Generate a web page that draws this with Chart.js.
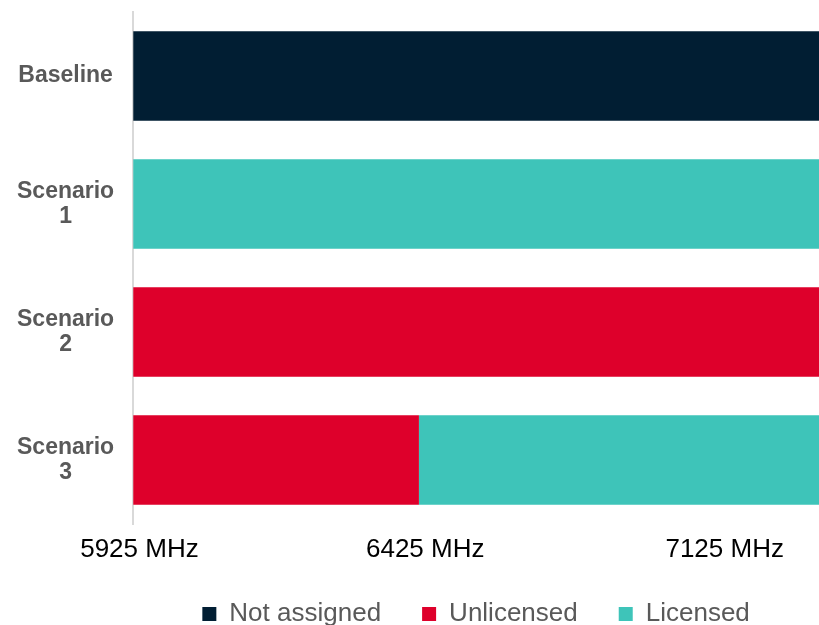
<!DOCTYPE html>
<html>
<head>
<meta charset="utf-8">
<script src="https://cdn.jsdelivr.net/npm/chart.js@4.4.1/dist/chart.umd.min.js"></script>
<style>
  html, body { margin: 0; padding: 0; background: #ffffff; }
  #wrap { width: 819px; height: 625px; position: relative; }
</style>
</head>
<body>
<div id="wrap"><canvas id="c"></canvas></div>
<script>
// Categories (multi-line labels)
const categories = [['Baseline'], ['Scenario', '1'], ['Scenario', '2'], ['Scenario', '3']];

// Band ranges in MHz per scenario (floating bars: [start, end])
const notAssigned = [[5925, 7125], null, null, null];
const unlicensed  = [null, null, [5925, 7125], [5925, 6425]];
const licensed    = [null, [5925, 7125], null, [6425, 7125]];

// Axis range and tick labels
const axisMin = 5925;
const axisMax = 7125;
const tickLabels = ['5925 MHz', '6425 MHz', '7125 MHz'];
const tickAnchors = [5936, 6436, 6960];

const FONT = "'Liberation Sans', Arial, sans-serif";

new Chart(document.getElementById('c'), {
  type: 'bar',
  data: {
    labels: categories,
    datasets: [
      { label: 'Not assigned', data: notAssigned, backgroundColor: '#011E33' },
      { label: 'Unlicensed', data: unlicensed, backgroundColor: '#DE002B' },
      { label: 'Licensed', data: licensed, backgroundColor: '#3EC4B9' }
    ]
  },
  options: {
    indexAxis: 'y',
    responsive: true,
    maintainAspectRatio: false,
    animation: false,
    layout: { padding: { left: -2, right: 0, top: 12, bottom: -12 } },
    datasets: {
      bar: { categoryPercentage: 0.7, barPercentage: 1.0, borderWidth: 0 }
    },
    scales: {
      y: {
        stacked: true,
        grid: { display: false, drawTicks: false },
        border: { display: true, color: '#d9d9d9', width: 2 },
        afterFit: (scale) => { scale.paddingTop = 0; scale.paddingBottom = 0; },
        ticks: {
          crossAlign: 'center',
          padding: 19,
          color: '#595959',
          font: { family: FONT, size: 23, weight: 'bold', lineHeight: 1.08 }
        }
      },
      x: {
        min: axisMin,
        max: axisMax,
        grid: { display: false, drawTicks: false },
        border: { display: false },
        afterBuildTicks: (scale) => {
          scale.ticks = tickAnchors.map(v => ({ value: v }));
        },
        afterFit: (scale) => { scale.height = 36; },
        ticks: {
          autoSkip: false,
          maxRotation: 0,
          padding: 23,
          color: '#000000',
          font: { family: FONT, size: 26, lineHeight: 0.2 },
          callback: (value, index) => tickLabels[index]
        }
      }
    },
    plugins: {
      tooltip: { enabled: false },
      legend: {
        position: 'bottom',
        fullSize: false,
        labels: {
          boxWidth: 14,
          boxHeight: 14,
          padding: 41,
          color: '#595959',
          font: { family: FONT, size: 26 }
        }
      }
    }
  }
});
</script>
</body>
</html>
